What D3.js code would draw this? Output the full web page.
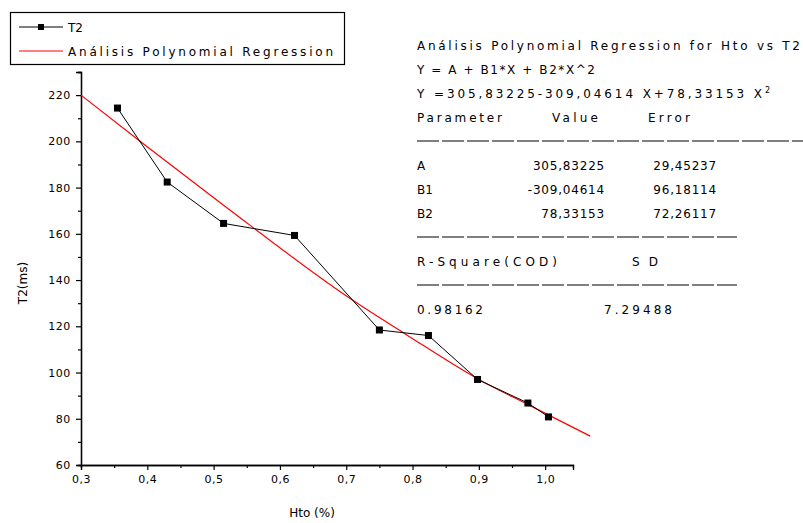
<!DOCTYPE html>
<html lang="en">
<head>
    <meta charset="UTF-8">
    <title>T2 vs Hto</title>
    <script src="https://d3js.org/d3.v7.min.js"></script>
    <style>
        body { margin: 0; background: #fff; }
        text { font-family: "DejaVu Sans", Arial, sans-serif; fill: #000; }
    </style>
</head>
<body>
    <div id="chart"></div>

    <script>
        // measured data (T2 series)
        const htoValues = [0.355, 0.43, 0.515, 0.622, 0.75, 0.824, 0.898, 0.974, 1.005];
        const t2Values = [214.4, 182.4, 164.5, 159.3, 118.4, 116, 97, 86.8, 80.8];

        // fitted curve
        const fitX = [0.30, 0.39, 0.515, 0.706, 0.79, 0.90, 0.975, 1.068];
        const fitY = [220, 199.8, 172.4, 132, 116.5, 97, 86, 72.5];

        const xTicks = [0.3, 0.4, 0.5, 0.6, 0.7, 0.8, 0.9, 1.0];
        const yTicks = [60, 80, 100, 120, 140, 160, 180, 200, 220];

        const seriesNames = ["T2", "Análisis Polynomial Regression"];

        // regression report text
        const reportTitle = "Análisis Polynomial Regression for Hto vs T2";
        const reportModel = "Y = A + B1*X + B2*X^2";
        const paramNames = ["A", "B1", "B2"];
        const paramValues = ["305,83225", "-309,04614", "78,33153"];
        const paramErrors = ["29,45237", "96,18114", "72,26117"];
        const rSquare = "0.98162";
        const sd = "7.29488";

        const W = 803, H = 523;
        const svg = d3.select("#chart").append("svg")
            .attr("width", W).attr("height", H);

        const x = d3.scaleLinear().domain([0.3, 1.042]).range([81, 573]);
        const y = d3.scaleLinear().domain([60, 230]).range([465, 72]);

        // axes
        const xAxis = d3.axisBottom(x).tickValues(xTicks).tickSize(5)
            .tickFormat(d => d3.format(".1f")(d).replace(".", ","));
        const xMinor = d3.axisBottom(x).tickValues(d3.range(0.35, 1.04, 0.1)).tickSize(3).tickFormat("");
        const yAxis = d3.axisLeft(y).tickValues(yTicks).tickSize(5);
        const yMinor = d3.axisLeft(y).tickValues(d3.range(70, 231, 20)).tickSize(3).tickFormat("");

        const gx = svg.append("g").attr("transform", "translate(0,465)").call(xAxis);
        svg.append("g").attr("transform", "translate(0,465)").call(xMinor);
        const gy = svg.append("g").attr("transform", "translate(81,0)").call(yAxis);
        svg.append("g").attr("transform", "translate(81,0)").call(yMinor);

        svg.selectAll(".domain").attr("stroke", "#000").attr("stroke-width", 1.3);
        svg.selectAll(".tick line").attr("stroke", "#000").attr("stroke-width", 1.2);
        gx.selectAll(".tick text").attr("font-size", 11).attr("dy", "0.9em")
            .attr("letter-spacing", 0.5).attr("font-family", "DejaVu Sans");
        gy.selectAll(".tick text").attr("font-size", 11).attr("dx", "-0.2em")
            .attr("letter-spacing", 0.5).attr("font-family", "DejaVu Sans");

        // axis titles
        svg.append("text").attr("x", 312).attr("y", 517).attr("text-anchor", "middle")
            .attr("font-size", 12).text("Hto (%)");
        svg.append("text").attr("transform", "translate(27,283) rotate(-90)")
            .attr("text-anchor", "middle").attr("font-size", 12).text("T2(ms)");

        // fitted curve
        const fitLine = d3.line().x(d => x(d[0])).y(d => y(d[1])).curve(d3.curveMonotoneX);
        svg.append("path").datum(d3.zip(fitX, fitY))
            .attr("d", fitLine).attr("fill", "none")
            .attr("stroke", "#ff0000").attr("stroke-width", 1.2);

        // T2 series
        const pts = d3.zip(htoValues, t2Values);
        svg.append("path").datum(pts)
            .attr("d", d3.line().x(d => x(d[0])).y(d => y(d[1])))
            .attr("fill", "none").attr("stroke", "#000").attr("stroke-width", 1);
        svg.selectAll("rect.pt").data(pts).join("rect")
            .attr("class", "pt")
            .attr("x", d => x(d[0]) - 3.5).attr("y", d => y(d[1]) - 3.5)
            .attr("width", 7).attr("height", 7).attr("fill", "#000");

        // legend
        const lg = svg.append("g");
        lg.append("rect").attr("x", 10.5).attr("y", 12.5).attr("width", 334).attr("height", 52)
            .attr("fill", "none").attr("stroke", "#000").attr("stroke-width", 1.2);
        const legendColors = ["#000", "#ff0000"];
        seriesNames.forEach((name, i) => {
            const ly = 27 + i * 24;
            lg.append("line").attr("x1", 19).attr("x2", 63).attr("y1", ly).attr("y2", ly)
                .attr("stroke", legendColors[i]).attr("stroke-width", 1.2);
            if (i === 0) {
                lg.append("rect").attr("x", 38).attr("y", ly - 3).attr("width", 6).attr("height", 6)
                    .attr("fill", "#000");
            }
            const t = lg.append("text").attr("x", 68).attr("y", ly + 4.5)
                .attr("font-size", 12).text(name);
            if (i === 1) t.attr("textLength", 265).attr("lengthAdjust", "spacing");
        });

        // regression report
        const rep = svg.append("g");
        const row = i => 45 + 24 * i + 4.5;
        const txt = (s, tx, ty, len, anchor) => {
            const t = rep.append("text").attr("x", tx).attr("y", ty)
                .attr("font-size", 12).attr("text-anchor", anchor || "start").text(s);
            if (len) t.attr("textLength", len).attr("lengthAdjust", "spacing");
            return t;
        };
        txt(reportTitle, 417, row(0), 383);
        txt(reportModel, 417, row(1), 178);
        const eq = rep.append("text").attr("x", 417).attr("y", row(2)).attr("font-size", 12)
            .attr("textLength", 353).attr("lengthAdjust", "spacing");
        eq.append("tspan").text("Y =" + paramValues[0] + paramValues[1] + " X+" + paramValues[2] + " X");
        eq.append("tspan").attr("dy", -5).attr("font-size", 8).text("2");
        txt("Parameter", 417, row(3), 85);
        txt("Value", 552, row(3), 46);
        txt("Error", 648, row(3), 42);

        const dash = (yy, x2) => rep.append("line").attr("x1", 417).attr("x2", x2)
            .attr("y1", yy).attr("y2", yy).attr("stroke", "#000").attr("stroke-width", 1.2)
            .attr("stroke-dasharray", "22,3");
        dash(141, 803);
        paramNames.forEach((p, i) => {
            txt(p, 417, row(5 + i));
            txt(paramValues[i], 605, row(5 + i), null, "end").attr("letter-spacing", 0.8);
            txt(paramErrors[i], 717, row(5 + i), null, "end").attr("letter-spacing", 0.8);
        });
        dash(237, 737);
        txt("R-Square(COD)", 417, row(9), 140);
        txt("SD", 632, row(9), 26);
        dash(285, 737);
        txt(rSquare, 417, row(11), 66);
        txt(sd, 604, row(11), 68);
    </script>
</body>
</html>
